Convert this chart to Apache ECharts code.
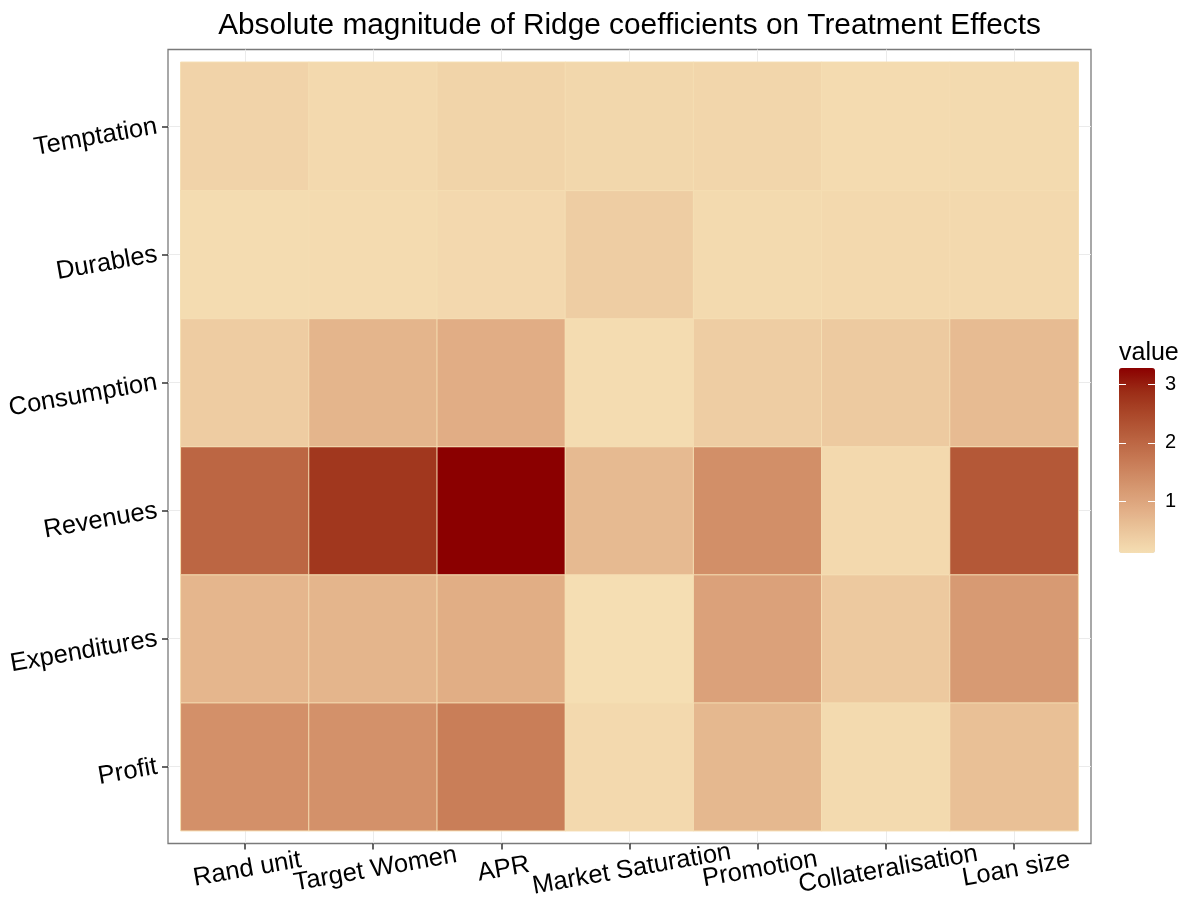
<!DOCTYPE html>
<html>
<head>
<meta charset="utf-8">
<script src="https://cdn.jsdelivr.net/npm/echarts@6/dist/echarts.min.js"></script>
<style>
  html, body { margin: 0; padding: 0; background: #fff; }
  #chart { width: 1192px; height: 907px; }
</style>
</head>
<body>
<div id="chart"></div>
<script>
  // categories (y goes bottom -> top)
  const xCats = ['Rand unit', 'Target Women', 'APR', 'Market Saturation', 'Promotion', 'Collateralisation', 'Loan size']
  const yCats = ['Profit', 'Expenditures', 'Revenues', 'Consumption', 'Durables', 'Temptation']

  // values, one array per row, in xCats order
  const profit = [1.35, 1.34, 1.64, 0.20, 0.72, 0.18, 0.59]
  const expenditures = [0.74, 0.76, 0.87, 0.12, 1.07, 0.45, 1.19]
  const revenues = [2.02, 2.73, 3.28, 0.68, 1.37, 0.20, 2.24]
  const consumption = [0.40, 0.76, 0.88, 0.15, 0.39, 0.44, 0.67]
  const durables = [0.15, 0.17, 0.21, 0.39, 0.18, 0.20, 0.20]
  const temptation = [0.29, 0.20, 0.28, 0.23, 0.25, 0.17, 0.18]

  const legendTicks = [1, 2, 3]

  const rows = [profit, expenditures, revenues, consumption, durables, temptation]
  const heatData = []
  rows.forEach((row, yi) => {
    row.forEach((v, xi) => heatData.push([xi, yi, v]))
  })
  const allVals = rows.flat()
  const vmin = Math.min(...allVals)
  const vmax = Math.max(...allVals)

  // wheat -> darkred, stops interpolated in Lab like ggplot
  const ramp = ['#F5DEB3', '#EBC59B', '#E0AB83', '#D4936C', '#C77A55', '#B9613F', '#AB482A', '#9B2C16', '#8B0000']

  const font = "'Liberation Sans', Arial, Helvetica, sans-serif"
  const W = 1192, H = 907

  // panel (with 0.6 unit expansion around the tiles)
  const panel = { left: 168, top: 49.5, right: 101, bottom: 63.5 }
  const unitX = (W - panel.left - panel.right) / (xCats.length + 0.2)
  const unitY = (H - panel.top - panel.bottom) / (yCats.length + 0.2)
  const padX = unitX * 0.1
  const padY = unitY * 0.1
  const panelCenter = panel.left + (W - panel.left - panel.right) / 2

  const stub = (pos, len) => ({
    show: true, inside: true, length: len,
    customValues: pos,
    lineStyle: { color: '#EBEBEB', width: 1 }
  })
  const xPos = xCats.map((_, i) => i + 1)
  const yPos = yCats.map((_, i) => i + 1)

  const chart = echarts.init(document.getElementById('chart'))
  chart.setOption({
    animation: false,
    backgroundColor: '#fff',
    title: {
      text: 'Absolute magnitude of Ridge coefficients on Treatment Effects',
      left: panelCenter,
      top: 11,
      padding: 0,
      textAlign: 'center',
      textStyle: { fontFamily: font, fontSize: 29.8, fontWeight: 'normal', color: '#000' }
    },
    grid: [
      {
        left: panel.left + padX, right: panel.right + padX,
        top: panel.top + padY, bottom: panel.bottom + padY
      },
      {
        left: panel.left, right: panel.right, top: panel.top, bottom: panel.bottom,
        show: true, borderColor: '#7a7a7a', borderWidth: 1.3, backgroundColor: 'transparent'
      },
      { left: 1119, top: 368, width: 36, height: 185 }
    ],
    xAxis: [
      {
        type: 'category', gridIndex: 0, data: xCats, offset: padY, z: 5,
        axisLine: { show: false },
        axisTick: { show: true, alignWithLabel: true, length: 6, lineStyle: { color: '#333', width: 1.5 } },
        axisLabel: {
          interval: 0, rotate: 10, align: 'center', verticalAlign: 'top', margin: 13,
          fontFamily: font, fontSize: 25.5, color: '#000'
        },
        splitLine: { show: false }
      },
      {
        type: 'value', gridIndex: 1, position: 'bottom', min: 0.4, max: xCats.length + 0.6,
        axisLine: { show: false }, axisLabel: { show: false }, splitLine: { show: false },
        axisTick: stub(xPos, padY)
      },
      {
        type: 'value', gridIndex: 1, position: 'top', min: 0.4, max: xCats.length + 0.6,
        axisLine: { show: false }, axisLabel: { show: false }, splitLine: { show: false },
        axisTick: stub(xPos, padY)
      },
      { type: 'value', gridIndex: 2, show: false }
    ],
    yAxis: [
      {
        type: 'category', gridIndex: 0, data: yCats, offset: padX, z: 5,
        axisLine: { show: false },
        axisTick: { show: true, alignWithLabel: true, length: 6, lineStyle: { color: '#333', width: 1.5 } },
        axisLabel: {
          interval: 0, rotate: 10, margin: 11,
          fontFamily: font, fontSize: 25.5, color: '#000'
        },
        splitLine: { show: false }
      },
      {
        type: 'value', gridIndex: 1, position: 'left', min: 0.4, max: yCats.length + 0.6,
        axisLine: { show: false }, axisLabel: { show: false }, splitLine: { show: false },
        axisTick: stub(yPos, padX)
      },
      {
        type: 'value', gridIndex: 1, position: 'right', min: 0.4, max: yCats.length + 0.6,
        axisLine: { show: false }, axisLabel: { show: false }, splitLine: { show: false },
        axisTick: stub(yPos, padX)
      },
      {
        // legend: left edge ticks + title
        type: 'value', gridIndex: 2, position: 'left', min: vmin, max: vmax, z: 10,
        name: 'value', nameLocation: 'end', nameGap: 2,
        nameTextStyle: { fontFamily: font, fontSize: 25, color: '#000', align: 'left', verticalAlign: 'bottom' },
        axisLine: { show: false }, axisLabel: { show: false }, splitLine: { show: false },
        axisTick: { show: true, inside: true, length: 7, customValues: legendTicks, lineStyle: { color: '#fff', width: 1 } }
      },
      {
        // legend: right edge ticks + labels
        type: 'value', gridIndex: 2, position: 'right', min: vmin, max: vmax, z: 10,
        axisLine: { show: false }, splitLine: { show: false },
        axisTick: { show: true, inside: true, length: 7, customValues: legendTicks, lineStyle: { color: '#fff', width: 1 } },
        axisLabel: { customValues: legendTicks, margin: 10, fontFamily: font, fontSize: 20, color: '#000' }
      }
    ],
    visualMap: {
      type: 'continuous',
      seriesIndex: 0,
      dimension: 2,
      min: vmin,
      max: vmax,
      calculable: false,
      realtime: false,
      hoverLink: false,
      left: 1119,
      top: 368,
      padding: 0,
      itemWidth: 36,
      itemHeight: 185,
      text: null,
      showLabel: false,
      inRange: { color: ramp }
    },
    series: [{
      type: 'heatmap',
      xAxisIndex: 0,
      yAxisIndex: 0,
      data: heatData,
      itemStyle: { borderColor: '#F5DEB3', borderWidth: 1 },
      emphasis: { disabled: true }
    }]
  })
</script>
</body>
</html>
